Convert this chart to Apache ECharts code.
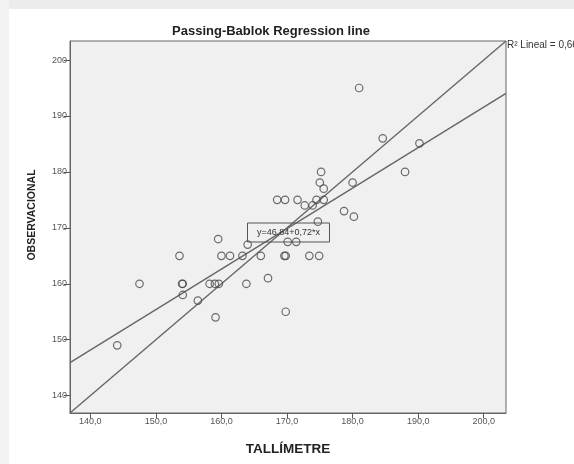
<!DOCTYPE html>
<html>
<head>
<meta charset="utf-8">
<script src="https://cdn.jsdelivr.net/npm/echarts@6/dist/echarts.min.js"></script>
<style>
html,body{margin:0;padding:0;background:#ffffff;}
#c{width:574px;height:464px;}
</style>
</head>
<body>
<div id="c"></div>
<script>
// ---- data ----
var xTicks = [140, 150, 160, 170, 180, 190, 200];
var yTicks = [140, 150, 160, 170, 180, 190, 200];
var tallimetre = [181.0,184.6,190.2,188.0,175.2,175.0,175.6,180.0,168.5,169.7,171.6,172.7,173.9,174.5,175.6,178.7,180.2,174.7,159.5,164.0,170.1,171.4,153.6,160.0,161.3,163.2,166.0,169.6,169.8,173.4,174.9,167.1,147.5,154.0,154.1,158.2,159.0,159.6,163.8,154.1,156.4,159.1,169.8,144.1];
var observacional = [195.0,186.0,185.1,180.0,180.0,178.1,177.0,178.1,175.0,175.0,175.0,174.0,174.0,175.0,175.0,173.0,172.0,171.1,168.0,167.0,167.5,167.5,165.0,165.0,165.0,165.0,165.0,165.0,165.0,165.0,165.0,161.0,160.0,160.0,160.0,160.0,160.0,160.0,160.0,158.0,157.0,154.0,155.0,149.0];
var identityLine = [[136.9, 136.9], [203.4, 203.4]];
var fitLine = [[136.9, 145.9], [203.4, 194.05]];
var axisRange = [136.9, 203.4];
var titleText = 'Passing-Bablok Regression line';
var xName = 'TALLÍMETRE';
var yName = 'OBSERVACIONAL';
var eqText = 'y=46,84+0,72*x';
var r2Text = 'R² Lineal = 0,66';

var points = tallimetre.map(function (x, i) { return [x, observacional[i]]; });
var FONT = "'Liberation Sans', Arial, sans-serif";

var chart = echarts.init(document.getElementById('c'), null, {renderer: 'canvas'});
chart.setOption({
  backgroundColor: '#ffffff',
  animation: false,
  grid: {left: 70, top: 41, right: 68, bottom: 51, show: true,
         backgroundColor: '#f0f0f0', borderColor: '#666', borderWidth: 1},
  xAxis: {
    type: 'value', min: axisRange[0], max: axisRange[1],
    splitLine: {show: false},
    axisLine: {show: true, lineStyle: {color: '#666', width: 1}},
    axisTick: {show: true, length: 5, customValues: xTicks, lineStyle: {color: '#555'}},
    axisLabel: {show: true, customValues: xTicks, margin: 4, fontSize: 9, color: '#555', fontFamily: FONT,
      formatter: function (v) { return v.toFixed(1).replace('.', ','); }}
  },
  yAxis: {
    type: 'value', min: axisRange[0], max: axisRange[1],
    splitLine: {show: false},
    axisLine: {show: true, lineStyle: {color: '#666', width: 1}},
    axisTick: {show: true, length: 6, customValues: yTicks, lineStyle: {color: '#555'}},
    axisLabel: {show: true, customValues: yTicks, margin: 3, fontSize: 9, color: '#555', fontFamily: FONT,
      formatter: function (v) { return String(Math.round(v)); }}
  },
  series: [
    {type: 'line', data: identityLine, symbol: 'none', silent: true,
     lineStyle: {color: '#666', width: 1.4}, z: 2},
    {type: 'line', data: fitLine, symbol: 'none', silent: true,
     lineStyle: {color: '#666', width: 1.4}, z: 2},
    {type: 'scatter', data: points, symbol: 'circle', symbolSize: 7.5,
     itemStyle: {color: 'rgba(0,0,0,0)', borderColor: '#4a4a4a', borderWidth: 1.2}, z: 3}
  ],
  graphic: [
    {type: 'rect', shape: {x: 0, y: 0, width: 574, height: 9}, style: {fill: '#ececec'}, silent: true},
    {type: 'rect', shape: {x: 0, y: 0, width: 9, height: 464}, style: {fill: '#f3f3f3'}, silent: true},
    {type: 'text', x: 271, y: 31, style: {text: titleText, font: 'bold 13px ' + FONT, fill: '#222',
      align: 'center', verticalAlign: 'middle'}},
    {type: 'text', x: 288, y: 449, style: {text: xName, font: 'bold 13.5px ' + FONT, fill: '#222',
      align: 'center', verticalAlign: 'middle'}},
    {type: 'text', x: 32, y: 215, rotation: Math.PI / 2, style: {text: yName, font: 'bold 10.5px ' + FONT, fill: '#222',
      align: 'center', verticalAlign: 'middle'}},
    {type: 'rect', shape: {x: 247.5, y: 223, width: 82, height: 19}, z: 10,
      style: {fill: 'rgba(0,0,0,0)', stroke: '#555', lineWidth: 1}},
    {type: 'text', x: 288.5, y: 232.5, z: 11, style: {text: eqText, font: '9px ' + FONT, fill: '#333',
      align: 'center', verticalAlign: 'middle'}},
    {type: 'text', x: 507, y: 45, style: {text: r2Text, font: '10px ' + FONT, fill: '#333',
      align: 'left', verticalAlign: 'middle'}}
  ]
});
</script>
</body>
</html>
